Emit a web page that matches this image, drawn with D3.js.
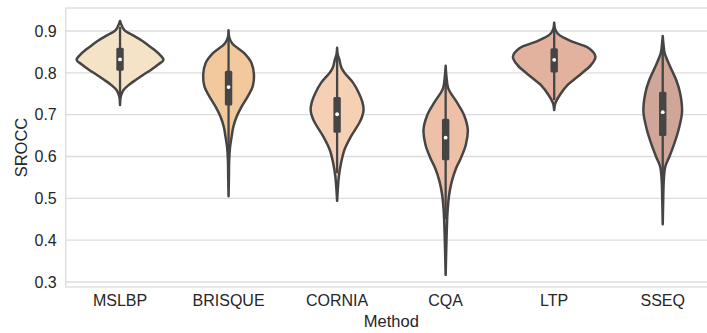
<!DOCTYPE html>
<html>
<head>
<meta charset="utf-8">
<script src="https://cdn.jsdelivr.net/npm/d3@7"></script>
<style>
  html, body { margin: 0; padding: 0; background: #fff; }
  svg { display: block; font-family: "Liberation Sans", Arial, sans-serif; }
</style>
</head>
<body>
<svg id="chart" width="707" height="333"></svg>
<script>
// Methods compared on the x axis
const methods = ["MSLBP", "BRISQUE", "CORNIA", "CQA", "LTP", "SSEQ"];

// Kernel density outlines: [SROCC, relative density]
const mslbpDensity = [[0.924,0],[0.918,0.02],[0.902,0.10],[0.890,0.29],[0.878,0.49],[0.866,0.65],[0.855,0.79],[0.843,0.92],[0.831,1.0],[0.820,0.88],[0.807,0.71],[0.795,0.53],[0.783,0.36],[0.770,0.19],[0.759,0.08],[0.748,0.03],[0.740,0.01],[0.723,0]];
const brisqueDensity = [[0.902,0],[0.885,0.015],[0.870,0.085],[0.847,0.36],[0.823,0.53],[0.795,0.585],[0.767,0.555],[0.743,0.44],[0.719,0.30],[0.695,0.185],[0.671,0.11],[0.647,0.07],[0.623,0.035],[0.592,0.015],[0.550,0.008],[0.505,0]];
const corniaDensity = [[0.860,0],[0.845,0.012],[0.832,0.05],[0.812,0.10],[0.800,0.17],[0.776,0.37],[0.752,0.50],[0.731,0.58],[0.711,0.61],[0.695,0.575],[0.680,0.51],[0.648,0.32],[0.616,0.17],[0.584,0.09],[0.552,0.04],[0.520,0.015],[0.494,0]];
const cqaDensity = [[0.817,0],[0.790,0.02],[0.763,0.06],[0.731,0.25],[0.700,0.42],[0.664,0.51],[0.628,0.465],[0.596,0.35],[0.572,0.24],[0.540,0.14],[0.508,0.08],[0.470,0.045],[0.420,0.025],[0.370,0.012],[0.317,0]];
const ltpDensity = [[0.920,0],[0.905,0.02],[0.894,0.08],[0.884,0.22],[0.874,0.43],[0.859,0.80],[0.839,0.95],[0.819,0.85],[0.795,0.59],[0.771,0.31],[0.747,0.13],[0.727,0.025],[0.711,0]];
const sseqDensity = [[0.888,0],[0.865,0.02],[0.847,0.045],[0.815,0.17],[0.783,0.31],[0.752,0.40],[0.707,0.445],[0.664,0.365],[0.632,0.27],[0.600,0.155],[0.576,0.06],[0.544,0.025],[0.490,0.01],[0.438,0]];
const densities = [mslbpDensity, brisqueDensity, corniaDensity, cqaDensity, ltpDensity, sseqDensity];

// Box summary per method
const quartile1 = [0.805, 0.722, 0.657, 0.591, 0.801, 0.649];
const medians = [0.832, 0.766, 0.701, 0.645, 0.831, 0.706];
const quartile3 = [0.860, 0.805, 0.742, 0.690, 0.859, 0.755];
const whiskerLow = [0.740, 0.600, 0.560, 0.450, 0.735, 0.520];
const whiskerHigh = [0.910, 0.885, 0.840, 0.790, 0.905, 0.870];

// Axis ticks
const yTicks = [0.3, 0.4, 0.5, 0.6, 0.7, 0.8, 0.9];

const palette = ["#F5E3C8", "#F1C99D", "#F6D0B5", "#EFC0A8", "#E3B29F", "#CFA698"];
const ink = "#262626";
const outline = "#454545";
const gridColor = "#dcdcdc";

const svg = d3.select("#chart");
const plot = { left: 65.75, right: 717, top: 8, bottom: 287 };

const x = d3.scaleBand().domain(methods).range([plot.left, plot.right]).padding(0);
const y = d3.scaleLinear().domain([0.288, 0.955]).range([plot.bottom, plot.top]);
const halfWidth = d3.scaleLinear().domain([0, 1]).range([0, x.bandwidth() * 0.4]);

// Horizontal grid
svg.append("g").selectAll("line").data(yTicks).join("line")
  .attr("x1", plot.left).attr("x2", plot.right)
  .attr("y1", d => y(d)).attr("y2", d => y(d))
  .attr("stroke", gridColor).attr("stroke-width", 1.3);

// Frame
svg.append("rect")
  .attr("x", plot.left).attr("y", plot.top)
  .attr("width", plot.right - plot.left).attr("height", plot.bottom - plot.top)
  .attr("fill", "none").attr("stroke", gridColor).attr("stroke-width", 1.3);

// Violins
const violin = svg.append("g");
methods.forEach((m, i) => {
  const cx = x(m) + x.bandwidth() / 2;
  const area = d3.area()
    .y(d => y(d[0]))
    .x0(d => cx - halfWidth(d[1]))
    .x1(d => cx + halfWidth(d[1]))
    .curve(d3.curveCatmullRom.alpha(0.5));
  violin.append("path")
    .attr("d", area(densities[i]))
    .attr("fill", palette[i])
    .attr("stroke", outline)
    .attr("stroke-width", 2.5)
    .attr("stroke-linejoin", "round");

  // Whisker
  violin.append("line")
    .attr("x1", cx).attr("x2", cx)
    .attr("y1", y(whiskerLow[i])).attr("y2", y(whiskerHigh[i]))
    .attr("stroke", outline).attr("stroke-width", 2.3);
  // Interquartile box
  violin.append("rect")
    .attr("x", cx - 3.7).attr("width", 7.4)
    .attr("y", y(quartile3[i])).attr("height", y(quartile1[i]) - y(quartile3[i]))
    .attr("rx", 1.5)
    .attr("fill", outline);
  // Median
  violin.append("circle")
    .attr("cx", cx).attr("cy", y(medians[i])).attr("r", 1.9)
    .attr("fill", "#ffffff");
});

// Y axis labels
svg.append("g").selectAll("text").data(yTicks).join("text")
  .attr("x", plot.left - 9)
  .attr("y", d => y(d))
  .attr("dy", "0.36em")
  .attr("text-anchor", "end")
  .attr("font-size", 16)
  .attr("fill", ink)
  .text(d => d3.format(".1f")(d));

// X axis labels
svg.append("g").selectAll("text").data(methods).join("text")
  .attr("x", d => x(d) + x.bandwidth() / 2)
  .attr("y", 306)
  .attr("text-anchor", "middle")
  .attr("font-size", 16)
  .attr("fill", ink)
  .text(d => d);

// Axis titles
svg.append("text")
  .attr("x", (plot.left + plot.right) / 2)
  .attr("y", 327)
  .attr("text-anchor", "middle")
  .attr("font-size", 16.5)
  .attr("fill", ink)
  .text("Method");

svg.append("text")
  .attr("transform", `translate(27,${(plot.top + plot.bottom) / 2}) rotate(-90)`)
  .attr("text-anchor", "middle")
  .attr("font-size", 16.5)
  .attr("fill", ink)
  .text("SROCC");
</script>
</body>
</html>
